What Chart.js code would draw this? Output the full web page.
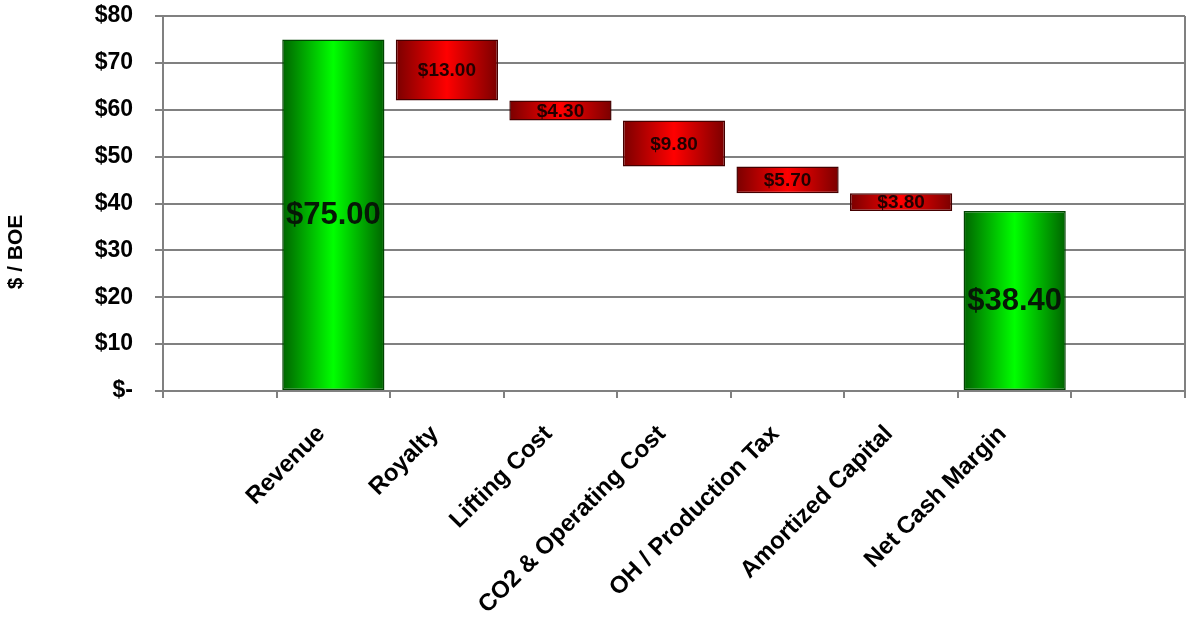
<!DOCTYPE html>
<html>
<head>
<meta charset="utf-8">
<script src="https://cdn.jsdelivr.net/npm/chart.js@4.4.1/dist/chart.umd.min.js"></script>
<style>
  html, body { margin: 0; padding: 0; background: #ffffff; }
  canvas { display: block; }
</style>
</head>
<body>
<canvas id="c" width="1188" height="628"></canvas>
<script>
// ---- data ----
const categories = ["", "Revenue", "Royalty", "Lifting Cost", "CO2 & Operating Cost", "OH / Production Tax", "Amortized Capital", "Net Cash Margin", ""];
const barBottoms = [null, 0, 62.0, 57.7, 47.9, 42.2, 38.4, 0, null];
const barTops    = [null, 75.0, 75.0, 62.0, 57.7, 47.9, 42.2, 38.4, null];
const barLabels  = ["", "$75.00", "$13.00", "$4.30", "$9.80", "$5.70", "$3.80", "$38.40", ""];
const barKinds   = ["", "total", "cost", "cost", "cost", "cost", "cost", "total", ""];
const yTicks     = [0, 10, 20, 30, 40, 50, 60, 70, 80];
const yTitle     = "$ / BOE";

const FONT = "'Liberation Sans', Arial, Helvetica, sans-serif";
const BAR_PCT = 0.9;

function barGradient(ctx) {
  const chart = ctx.chart;
  const kind = barKinds[ctx.dataIndex];
  const dark = kind === 'total' ? '#006400' : '#7a0000';
  const light = kind === 'total' ? '#00ff00' : '#ff0000';
  if (!chart.chartArea || !chart.scales.x) return light;
  const xs = chart.scales.x;
  const cx = xs.getPixelForValue(ctx.dataIndex);
  const w = (xs.width / categories.length) * BAR_PCT;
  const g = chart.ctx.createLinearGradient(cx - w / 2, 0, cx + w / 2, 0);
  g.addColorStop(0, dark);
  g.addColorStop(0.5, light);
  g.addColorStop(1, dark);
  return g;
}

const floatData = categories.map((c, i) => barTops[i] === null ? null : [barBottoms[i], barTops[i]]);

const labelPlugin = {
  id: 'barLabels',
  afterDatasetsDraw(chart) {
    const meta = chart.getDatasetMeta(0);
    const c = chart.ctx;
    c.save();
    meta.data.forEach((el, i) => {
      if (!barLabels[i]) return;
      const p = el.getProps(['x', 'y', 'base'], true);
      const cy = (p.y + p.base) / 2;
      const total = barKinds[i] === 'total';
      c.font = (total ? 'bold 31px ' : 'bold 19px ') + FONT;
      c.fillStyle = total ? '#061806' : '#220000';
      c.textAlign = 'center';
      c.textBaseline = 'middle';
      c.fillText(barLabels[i], p.x, cy + 1);
    });
    c.restore();
  }
};

const framePlugin = {
  id: 'frame',
  afterDraw(chart) {
    const a = chart.chartArea;
    const c = chart.ctx;
    c.save();
    // right border of the plot area
    c.strokeStyle = '#808080';
    c.lineWidth = 2;
    c.beginPath();
    c.moveTo(a.right, a.top);
    c.lineTo(a.right, a.bottom + 7);
    c.stroke();
    // y axis title
    c.translate(16, 252);
    c.rotate(-Math.PI / 2);
    c.font = 'bold 21px ' + FONT;
    c.fillStyle = '#000';
    c.textAlign = 'center';
    c.textBaseline = 'middle';
    c.fillText(yTitle, 0, 0);
    c.restore();
  }
};

new Chart(document.getElementById('c'), {
  type: 'bar',
  data: {
    labels: categories,
    datasets: [{
      data: floatData,
      backgroundColor: barGradient,
      borderColor: (ctx) => barKinds[ctx.dataIndex] === 'total' ? '#004400' : '#440000',
      borderWidth: 1.5,
      borderSkipped: false,
      barPercentage: BAR_PCT,
      categoryPercentage: 1.0
    }]
  },
  options: {
    responsive: false,
    devicePixelRatio: 1,
    animation: false,
    layout: { padding: { top: 16, right: 3, left: 0, bottom: 0 } },
    plugins: {
      legend: { display: false },
      tooltip: { enabled: false },
      title: { display: false }
    },
    scales: {
      x: {
        offset: true,
        grid: {
          offset: true,
          drawOnChartArea: false,
          drawTicks: true,
          tickLength: 7,
          color: '#808080',
          lineWidth: 2
        },
        border: { display: true, color: '#808080', width: 2 },
        ticks: {
          autoSkip: false,
          maxRotation: 45,
          minRotation: 45,
          color: '#000',
          padding: 22,
          labelOffset: -12,
          font: { family: FONT, size: 24, weight: 'bold' }
        },
        afterFit(s) { s.height = 628 - 391; }
      },
      y: {
        min: 0,
        max: 80,
        afterBuildTicks(s) { s.ticks = yTicks.map(v => ({ value: v })); },
        grid: {
          color: '#808080',
          lineWidth: 2,
          drawTicks: true,
          tickLength: 8
        },
        border: { display: true, color: '#808080', width: 2 },
        ticks: {
          color: '#000',
          padding: 22,
          font: { family: FONT, size: 23, weight: 'bold' },
          callback: (v) => v === 0 ? '$-' : '$' + v
        },
        afterFit(s) { s.width = 163; s.paddingTop = 10; s.paddingBottom = 10; }
      }
    }
  },
  plugins: [labelPlugin, framePlugin]
});
</script>
</body>
</html>
